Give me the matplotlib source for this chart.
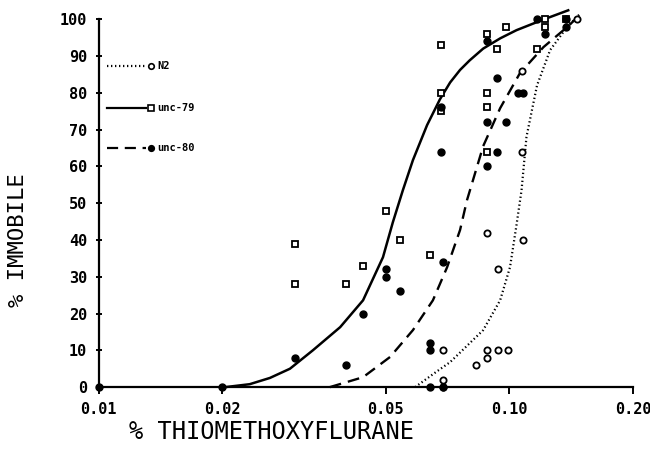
import matplotlib
matplotlib.use("Agg")
import matplotlib.pyplot as plt

n2_x = [0.069, 0.069, 0.069, 0.083, 0.088, 0.088, 0.094, 0.099, 0.094, 0.088, 0.108, 0.107, 0.107, 0.146]
n2_y = [0, 2, 10, 6, 8, 10, 10, 10, 32, 42, 40, 64, 86, 100]

u79_x = [0.03, 0.03, 0.04, 0.044, 0.05, 0.054, 0.064, 0.068, 0.068, 0.068,
         0.088, 0.093, 0.098, 0.088, 0.088, 0.088, 0.117, 0.122, 0.122, 0.137]
u79_y = [39, 28, 28, 33, 48, 40, 36, 93, 80, 75,
         96, 92, 98, 80, 76, 64, 92, 98, 100, 100]

u80_x = [0.01, 0.02, 0.03, 0.04, 0.044, 0.05, 0.05, 0.054, 0.064, 0.064, 0.064, 0.069,
         0.069, 0.068, 0.068, 0.088, 0.093, 0.105, 0.108, 0.088, 0.098, 0.093, 0.088,
         0.122, 0.117, 0.137, 0.137]
u80_y = [0, 0, 8, 6, 20, 32, 30, 26, 12, 10, 0, 0,
         34, 76, 64, 94, 84, 80, 80, 72, 72, 64, 60,
         96, 100, 100, 98]

# fitted curves
n2_fit_x = [0.0589, 0.0666, 0.0717, 0.0758, 0.0863, 0.0949, 0.1003, 0.104, 0.107, 0.110, 0.1167, 0.1256, 0.138, 0.149]
n2_fit_y = [0, 4.3, 6.8, 9.4, 15.5, 23.6, 32.6, 44.0, 53.5, 68, 82.0, 91.6, 97.8, 101.6]

u79_fit_x = [0.0203, 0.0233, 0.0261, 0.0292, 0.0332, 0.0387, 0.044, 0.0492, 0.052, 0.055,
             0.0582, 0.063, 0.0677, 0.0717, 0.0758, 0.080, 0.0863, 0.095, 0.104, 0.121, 0.139]
u79_fit_y = [0, 0.8, 2.5, 5, 10, 16.3, 23.6, 35.3, 44.8, 53.5,
             61.7, 71.2, 78.2, 82.8, 86.2, 88.8, 92.0, 94.8, 97, 99.9, 102.4]

u80_fit_x = [0.0365, 0.044, 0.0512, 0.0582, 0.0651, 0.0705, 0.0758, 0.0788, 0.0863, 0.0949, 0.106, 0.121, 0.138, 0.150]
u80_fit_y = [0, 2.7, 8.2, 15.5, 23.6, 32.6, 42.7, 50.8, 65.5, 75.8, 85.3, 92.4, 97.8, 101.6]

xticks = [0.01, 0.02, 0.05, 0.10, 0.20]
xtick_labels = ["0.01", "0.02", "0.05", "0.10", "0.20"]

mono = "DejaVu Sans Mono"

fig = plt.figure(figsize=(6.5, 4.67), dpi=100)
ax = fig.add_axes([0.152, 0.171, 0.822, 0.788])

ax.plot(n2_fit_x, n2_fit_y, color="black", lw=1.6, linestyle=(0, (0.6, 1.2)), clip_on=False)
ax.plot(u79_fit_x, u79_fit_y, color="black", lw=1.8, linestyle="-", clip_on=False)
ax.plot(u80_fit_x, u80_fit_y, color="black", lw=1.7, linestyle=(0, (5, 3)), clip_on=False)

ax.plot(n2_x, n2_y, "o", mfc="white", mec="black", mew=1.3, ms=4.5, linestyle="none", clip_on=False, zorder=3)
ax.plot(u79_x, u79_y, "s", mfc="white", mec="black", mew=1.3, ms=4.8, linestyle="none", clip_on=False, zorder=3)
ax.plot(u80_x, u80_y, "o", mfc="black", mec="black", ms=5, linestyle="none", clip_on=False, zorder=3)

# legend drawn by hand: line then marker then label
legend_rows = [
    ("N2", (0, (0.6, 1.2)), "o", "white", 0.872),
    ("unc-79", "-", "s", "white", 0.758),
    ("unc-80", (0, (5, 3)), "o", "black", 0.649),
]
for name, ls, mk, fc, yy in legend_rows:
    ax.plot([0.015, 0.088], [yy, yy], color="black", lw=1.6, linestyle=ls, transform=ax.transAxes, clip_on=False)
    ax.plot([0.097], [yy], mk, mfc=fc, mec="black", mew=1.2, ms=4, transform=ax.transAxes, clip_on=False)
    ax.text(0.110, yy, name, transform=ax.transAxes, fontsize=7.5, family=mono,
            fontweight="bold", va="center", ha="left")

ax.set_xscale("log")
ax.set_xlim(0.01, 0.20)
ax.set_ylim(0, 100)
ax.set_xticks(xticks)
ax.set_xticklabels(xtick_labels)
ax.xaxis.set_minor_locator(matplotlib.ticker.NullLocator())
ax.set_yticks(range(0, 101, 10))

for s in ["top", "right"]:
    ax.spines[s].set_visible(False)
for s in ["left", "bottom"]:
    ax.spines[s].set_linewidth(1.6)

ax.tick_params(axis="x", direction="out", length=5, width=1.4, pad=6)
ax.tick_params(axis="y", direction="inout", length=5, width=1.4, pad=6)
for lab in ax.get_xticklabels() + ax.get_yticklabels():
    lab.set_family(mono)
    lab.set_fontweight("bold")
    lab.set_fontsize(11)

fig.text(0.417, 0.074, "% THIOMETHOXYFLURANE", family=mono, fontsize=17, ha="center", va="center")
fig.text(0.028, 0.486, "% IMMOBILE", family=mono, fontsize=16, ha="center", va="center", rotation=90)

fig.savefig("out.png", dpi=100)
